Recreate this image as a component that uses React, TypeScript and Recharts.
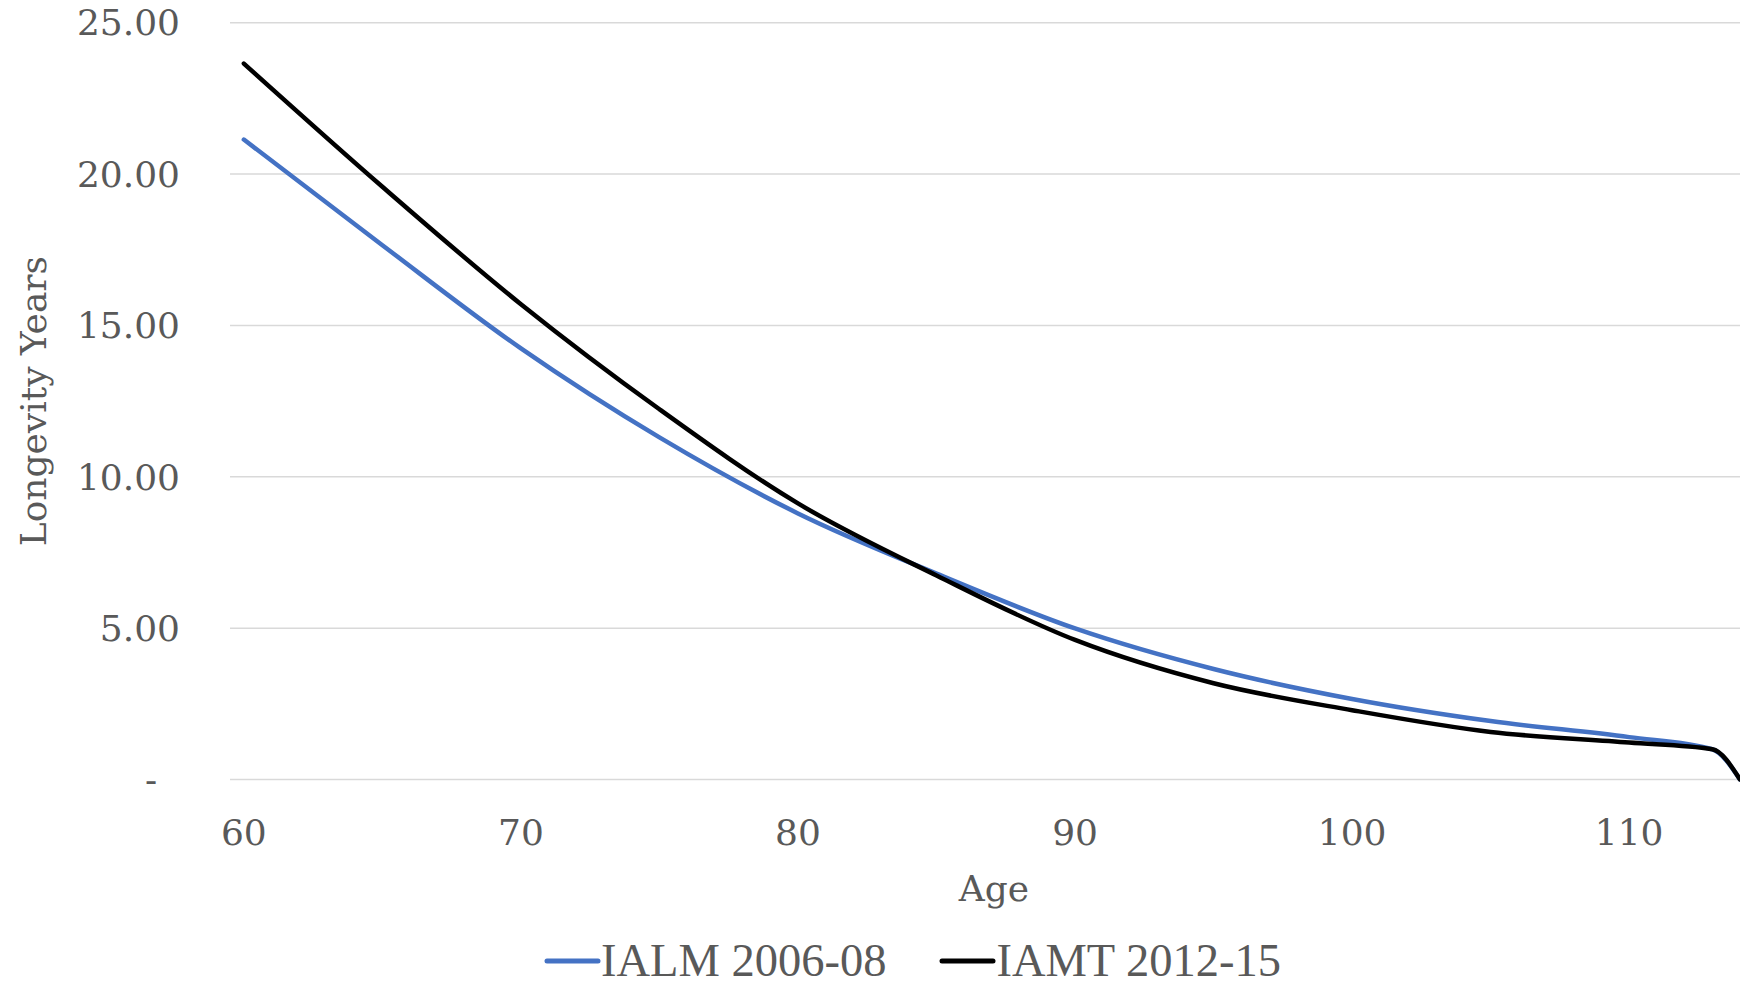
import React from "react";
import {
  LineChart,
  Line,
  XAxis,
  YAxis,
  CartesianGrid,
  Legend,
} from "recharts";

// ages, with remaining longevity (years) for each table
const ages = [60, 65, 70, 75, 80, 85, 90, 95, 100, 105, 110, 113, 114];
const ialm = [21.14, 17.65, 14.24, 11.3, 8.79, 6.8, 4.99, 3.65, 2.66, 1.93, 1.4, 1.0, 0];
const iamt = [23.65, 19.58, 15.7, 12.23, 9.12, 6.74, 4.61, 3.18, 2.29, 1.57, 1.22, 1.0, 0];

const xTicks = [60, 70, 80, 90, 100, 110];
const yTicks = [0, 5, 10, 15, 20, 25];

const chartData = ages.map((age, i) => ({
  age,
  ialm: ialm[i],
  iamt: iamt[i],
}));

const textColor = "#595959";
const serif = "'DejaVu Serif', serif";

const YTitle = (props: any) => {
  const { x, y, height } = props.viewBox;
  const cx = x + 34;
  const cy = y + height / 2;
  return (
    <text
      x={cx}
      y={cy}
      transform={`rotate(-90 ${cx} ${cy})`}
      textAnchor="middle"
      dominantBaseline="central"
      fill={textColor}
      fontSize={36}
      fontFamily={serif}
    >
      Longevity Years
    </text>
  );
};

const XTitle = (props: any) => {
  const { x, y, width, height } = props.viewBox;
  return (
    <text
      x={x + width / 2 + 9}
      y={y + height - 31}
      textAnchor="middle"
      fill={textColor}
      fontSize={36}
      fontFamily={serif}
    >
      Age
    </text>
  );
};

const renderLegend = (props: any) => {
  const { payload } = props;
  return (
    <div
      style={{
        display: "flex",
        alignItems: "center",
        height: 50,
        paddingTop: 8,
        paddingLeft: 544,
        boxSizing: "border-box",
        fontFamily: "'Liberation Serif', serif",
        fontSize: 46.5,
        color: textColor,
      }}
    >
      {payload.map((entry: any) => (
        <div
          key={entry.value}
          style={{ display: "flex", alignItems: "center", marginRight: 53 }}
        >
          <svg width={57} height={8}>
            <line
              x1={3}
              y1={4}
              x2={54}
              y2={4}
              stroke={entry.color}
              strokeWidth={5}
              strokeLinecap="round"
            />
          </svg>
          <span style={{ lineHeight: "46px" }}>{entry.value}</span>
        </div>
      ))}
    </div>
  );
};

export default function App() {
  return (
    <div style={{ position: "absolute", left: 0, top: 0, width: 1740, height: 982, background: "#fff" }}>
      <LineChart
        width={1740}
        height={982}
        data={chartData}
        margin={{ top: 22.7, right: 0, bottom: 0, left: 0 }}
      >
        <CartesianGrid vertical={false} stroke="#d9d9d9" strokeWidth={1.5} />
        <XAxis
          dataKey="age"
          type="number"
          domain={[59.5, 114]}
          ticks={xTicks}
          axisLine={false}
          tickLine={false}
          tickSize={0}
          tickMargin={40}
          height={152.5}
          tick={{ fill: textColor, fontSize: 36, fontFamily: serif }}
          label={<XTitle />}
        />
        <YAxis
          type="number"
          domain={[0, 25]}
          ticks={yTicks}
          width={230}
          axisLine={false}
          tickLine={false}
          tickSize={0}
          tickMargin={50}
          tick={{ fill: textColor, fontSize: 36, fontFamily: serif }}
          tickFormatter={(v: number) => (v === 0 ? "-\u00a0\u00a0" : v.toFixed(2))}
          label={<YTitle />}
        />
        <Legend verticalAlign="bottom" content={renderLegend} />
        <Line
          type="monotone"
          dataKey="ialm"
          name="IALM 2006-08"
          stroke="#4472c4"
          strokeWidth={4.5}
          strokeLinecap="round"
          strokeLinejoin="round"
          dot={false}
          isAnimationActive={false}
        />
        <Line
          type="monotone"
          dataKey="iamt"
          name="IAMT 2012-15"
          stroke="#000000"
          strokeWidth={4.5}
          strokeLinecap="round"
          strokeLinejoin="round"
          dot={false}
          isAnimationActive={false}
        />
      </LineChart>
    </div>
  );
}
